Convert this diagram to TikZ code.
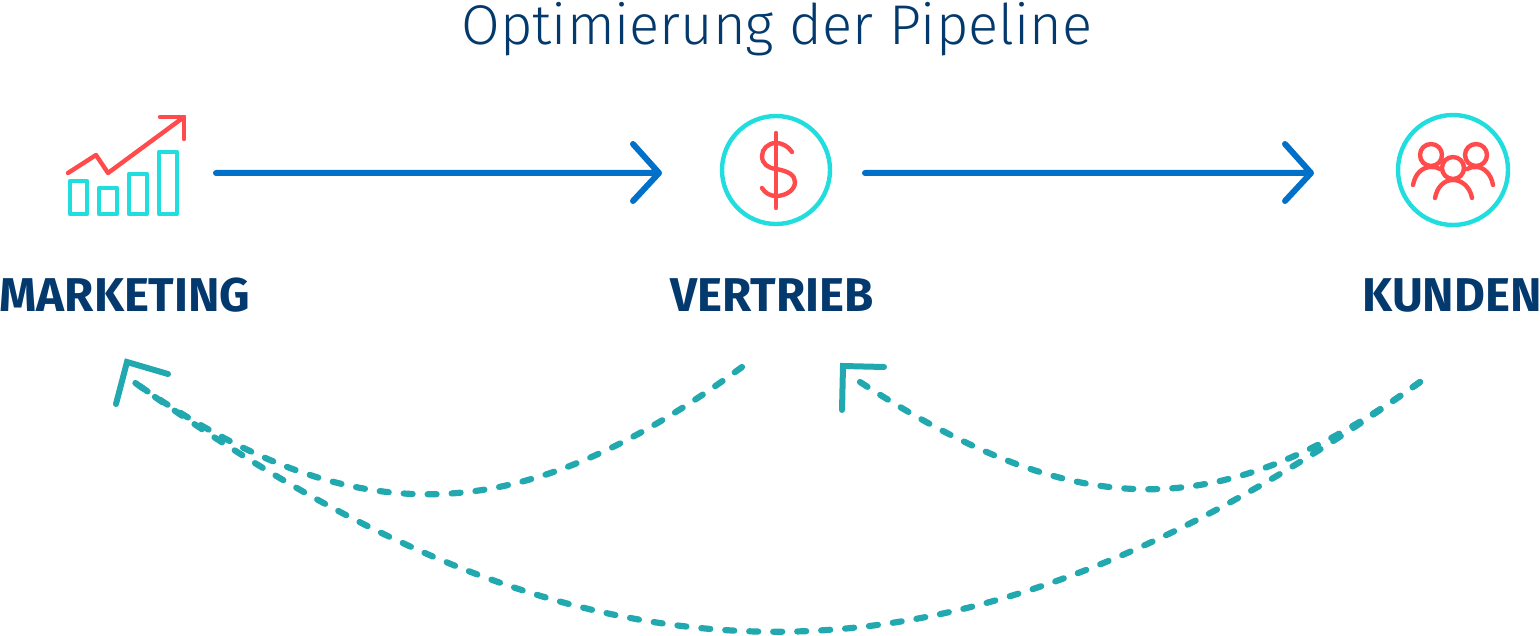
\documentclass[tikz,border=0pt]{standalone}
\usepackage{fontspec}
\usetikzlibrary{arrows.meta}
\setmainfont{Fira Sans}
\newfontfamily\titlefont{Fira Sans Light}
\definecolor{navy}{HTML}{03396C}
\definecolor{flow}{HTML}{0070C9}
\definecolor{loop}{HTML}{22A9B0}
\definecolor{aqua}{HTML}{22DDDD}
\definecolor{coral}{HTML}{FF4B4B}
\tikzset{
  x=0.5pt,y=-0.5pt,
  heading/.style={anchor=base,inner sep=0pt,text=navy,font=\titlefont\fontsize{28}{34}\selectfont},
  stage/.style={anchor=base,inner sep=0pt,text=navy,font=\bfseries\fontsize{23.7}{30}\selectfont},
  flowline/.style={draw=flow,line width=3pt,line cap=round,line join=round},
  loopline/.style={draw=loop,line width=3.1pt,line cap=round,dash pattern=on 4.5pt off 7.5pt},
  loophead/.style={draw=loop,line width=3pt,line cap=round,line join=miter},
  aquaicon/.style={draw=aqua,line width=2.2pt,line cap=round,line join=round},
  coralicon/.style={draw=coral,line width=2.2pt,line cap=round,line join=round},
}
\begin{document}
\begin{tikzpicture}
\useasboundingbox (0,0) rectangle (1540,636);
% texts
\node[heading] (title) at (777,45) {Optimierung der Pipeline};
\node[stage] (marketing) at (125,311) {MARKETING};
\node[stage] (vertrieb) at (772,311) {VERTRIEB};
\node[stage] (kunden) at (1452,311) {KUNDEN};
% connector ends
\coordinate (mo) at (216,173);
\coordinate (vi) at (659,173);
\coordinate (vo) at (865,173);
\coordinate (ki) at (1311,173);
\coordinate (vs) at (742,367);
\coordinate (ks) at (1420,382);
\coordinate (mt) at (134,382);
\coordinate (vt) at (860,382);
\coordinate (ma) at (127,362);
\coordinate (va) at (843,366);
% blue flow arrows
\draw[flowline] (mo) -- (vi) ++(-26,-29) -- (vi) -- ++(-26,28);
\draw[flowline] (vo) -- (ki) ++(-26,-29) -- (ki) -- ++(-26,28);
% feedback loops
\draw[loopline] (vs) .. controls (520,530) and (355,538) .. (mt);
\draw[loopline] (ks) .. controls (1220,525) and (1080,525) .. (vt);
\draw[loopline] (ks) .. controls (955,715) and (595,715) .. (mt);
\draw[loophead] (ma) ++(-11,42) -- (ma) -- ++(41,12);
\draw[loophead] (va) ++(-1,44) -- (va) -- ++(41,1);
% marketing icon
\draw[aquaicon] (70,181) rectangle (87,214);
\draw[aquaicon] (99,188) rectangle (117,214);
\draw[aquaicon] (129,174) rectangle (147,214);
\draw[aquaicon] (159,152) rectangle (177,214);
\draw[coralicon] (68,173) -- (96,155) -- (108,173) -- (184,117);
\draw[coralicon] (160,117) -- (184,117) -- (184,139);
% dollar icon
\node[circle,draw=aqua,line width=2.2pt,minimum size=54pt,inner sep=0pt] (dollar) at (776,170) {};
\draw[coralicon] (776,133) -- (776,208);
\draw[coralicon] (792,152) .. controls (788,146) and (782,143) .. (776,143)
  .. controls (768,143) and (762,149) .. (762,156)
  .. controls (762,164) and (768,168) .. (776,169)
  .. controls (788,171) and (795,175) .. (795,182)
  .. controls (795,190) and (786,196) .. (776,196)
  .. controls (770,196) and (765,193) .. (762,188);
% customers icon
\node[circle,draw=aqua,line width=2.2pt,minimum size=55pt,inner sep=0pt] (people) at (1453,170) {};
\draw[coralicon] (1431,155) circle[radius=5.5pt];
\draw[coralicon] (1476,155) circle[radius=5.5pt];
\draw[coralicon] (1453,168) circle[radius=5.5pt];
\draw[coralicon] (1413,185) .. controls (1415,174) and (1422,167) .. (1431,167) .. controls (1434,167) and (1437,167) .. (1440,169);
\draw[coralicon] (1493,185) .. controls (1491,174) and (1484,167) .. (1476,167) .. controls (1473,167) and (1470,167) .. (1467,169);
\draw[coralicon] (1435,198) .. controls (1437,187) and (1444,180) .. (1453,180) .. controls (1462,180) and (1470,187) .. (1472,198);
\end{tikzpicture}
\end{document}
